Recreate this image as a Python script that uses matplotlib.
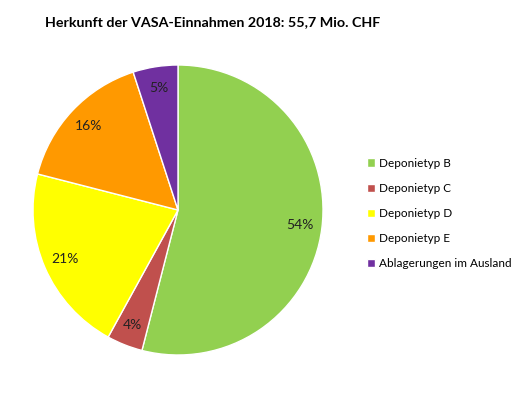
import matplotlib
matplotlib.use('Agg')
import matplotlib.pyplot as plt

plt.rcParams['font.family'] = ['Lato', 'DejaVu Sans']

labels = ['Deponietyp B', 'Deponietyp C', 'Deponietyp D', 'Deponietyp E', 'Ablagerungen im Ausland']
values = [54, 4, 21, 16, 5]
colors = ['#92D050', '#C0504D', '#FFFF00', '#FF9900', '#7030A0']

fig = plt.figure(figsize=(5.28, 3.96), dpi=100)
ax = fig.add_axes([33 / 528, 41 / 396, 290 / 528, 290 / 396])

wedges, texts, autotexts = ax.pie(values, colors=colors, startangle=90, counterclock=False,
                                  autopct='%1.0f%%', pctdistance=0.85,
                                  wedgeprops=dict(edgecolor='white', linewidth=1),
                                  textprops=dict(fontsize=10, color='#222222'))
ax.set_xlim(-1, 1)
ax.set_ylim(-1, 1)
ax.set_aspect('equal')

fig.text(45 / 528, 1 - 22 / 396, 'Herkunft der VASA-Einnahmen 2018: 55,7 Mio. CHF',
         fontsize=10.3, fontweight='bold', va='center', ha='left')

fig.legend(wedges, labels, loc='upper left', bbox_to_anchor=(362 / 528, 1 - 153 / 396),
           frameon=False, fontsize=8.5, handlelength=0.7, handleheight=0.7,
           handletextpad=0.3, labelspacing=1.2, borderaxespad=0)

fig.savefig('out.png', dpi=100)
